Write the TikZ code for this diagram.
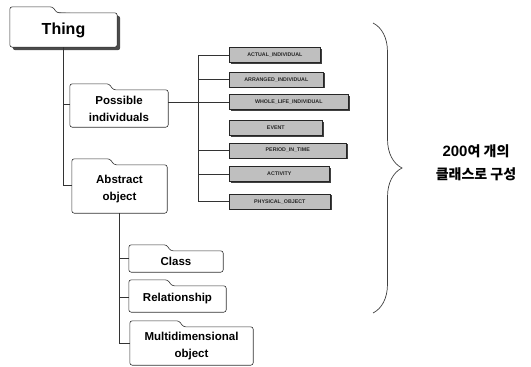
\documentclass[tikz,border=0pt]{standalone}
\usepackage{fontspec}
\setmainfont{Liberation Sans}
\newfontfamily\cjk{Noto Sans CJK KR}
\usetikzlibrary{positioning, calc, backgrounds, shadows, decorations.pathreplacing}

\begin{document}
\begin{tikzpicture}[
    x=1pt, y=1pt,
    every node/.style={font=\bfseries},
    folder/.style={inner sep=0pt, align=center, font=\fontsize{11.5}{17}\selectfont\bfseries},
    topfolder/.style={folder, font=\fontsize{16}{18}\selectfont\bfseries},
    folderline/.style={draw=black!80, line width=0.6pt, fill=white, rounded corners=2.5pt},
    kind/.style={draw=black!85, fill=black!25, inner sep=0pt, minimum height=15pt, line width=0.6pt,
        font=\fontsize{5.3}{6}\selectfont\bfseries, text=black!85,
        drop shadow={shadow xshift=1.3pt, shadow yshift=-1.3pt, opacity=1, fill=black!75}},
    link/.style={draw=black!80, line width=0.5pt}
  ]
  \useasboundingbox (0,0) rectangle (531,-367);

  % Folders
  \node[topfolder, minimum width=107pt, minimum height=34pt] (thing) at (63.5,-30) {Thing};
  \node[folder, minimum width=98pt, minimum height=37pt] (poss) at (119,-108.5) {Possible\\individuals};
  \node[folder, minimum width=95pt, minimum height=48pt] (abs) at (119.5,-189) {Abstract\\object};
  \node[folder, minimum width=94pt, minimum height=21pt] (cls) at (176,-261.5) {Class};
  \node[folder, minimum width=97pt, minimum height=26pt] (rel) at (177.5,-299) {Relationship};
  \node[folder, minimum width=123pt, minimum height=38pt] (multi) at (191.5,-346) {Multidimensional\\object};

  % Folder outlines
  \begin{scope}[on background layer]
    \fill[black!70, rounded corners=2.5pt] ($(thing.south west)+(3,-3)$) -- ($(thing.north west)+(3,3)$)
      -- ($(thing.north east)+(3,-3)$) -- ($(thing.south east)+(3,-3)$) -- cycle;
    \foreach \f in {thing, poss, abs, cls, rel, multi}
      \draw[folderline] (\f.south west) -- ($(\f.north west)+(0,6)$)
        -- ($(\f.north west)!0.4!(\f.north east)+(0,6)$)
        -- ($(\f.north west)!0.4!(\f.north east)+(4,0)$)
        -- (\f.north east) -- (\f.south east) -- cycle;
  \end{scope}

  % Individual classes
  \node[kind, minimum width=91pt, anchor=west] (actual) at (229,-55) {ACTUAL\_INDIVIDUAL};
  \node[kind, minimum width=94pt, below=9pt of actual.south west, anchor=north west] (arranged) {ARRANGED\_INDIVIDUAL};
  \node[kind, minimum width=119pt, below=7pt of arranged.south west, anchor=north west] (whole) {WHOLE\_LIFE\_INDIVIDUAL};
  \node[kind, minimum width=93pt, below=10pt of whole.south west, anchor=north west] (event) {EVENT};
  \node[kind, minimum width=117pt, below=7pt of event.south west, anchor=north west] (period) {PERIOD\_IN\_TIME};
  \node[kind, minimum width=100pt, below=8pt of period.south west, anchor=north west] (activity) {ACTIVITY};
  \node[kind, minimum width=101pt, below=12pt of activity.south west, anchor=north west] (phys) {PHYSICAL\_OBJECT};

  % Tree lines
  \coordinate (bus) at (198,-55);
  \draw[link] (thing.south) |- ([yshift=4pt]abs.west);
  \draw[link] (thing.south |- poss.west) ++(0,4) -- ([yshift=4pt]poss.west);
  \draw[link] (poss.east |- whole.west) -- (whole.west);
  \draw[link] (bus |- actual.west) -- (bus |- phys.west);
  \foreach \g in {actual, arranged, period, activity, phys}
    \draw[link] (bus |- \g.west) -- (\g.west);
  \draw[link] (abs.south) |- ([yshift=3pt]multi.west);
  \draw[link] (abs.south |- cls.west) ++(0,3) -- ([yshift=3pt]cls.west);
  \draw[link] (abs.south |- rel.west) ++(0,2) -- ([yshift=2pt]rel.west);

  % Brace and note
  \draw[black!75, line width=0.7pt, decorate, decoration={brace, amplitude=29pt}] (373,-23) -- (373,-313);
  \node[align=center, font=\fontsize{14}{23}\selectfont\bfseries] (note) at (476,-162.5)
    {{\fontsize{15}{23}\selectfont 200}{\cjk 여 개의}\\{\cjk 클래스로 구성}};
\end{tikzpicture}
\end{document}
